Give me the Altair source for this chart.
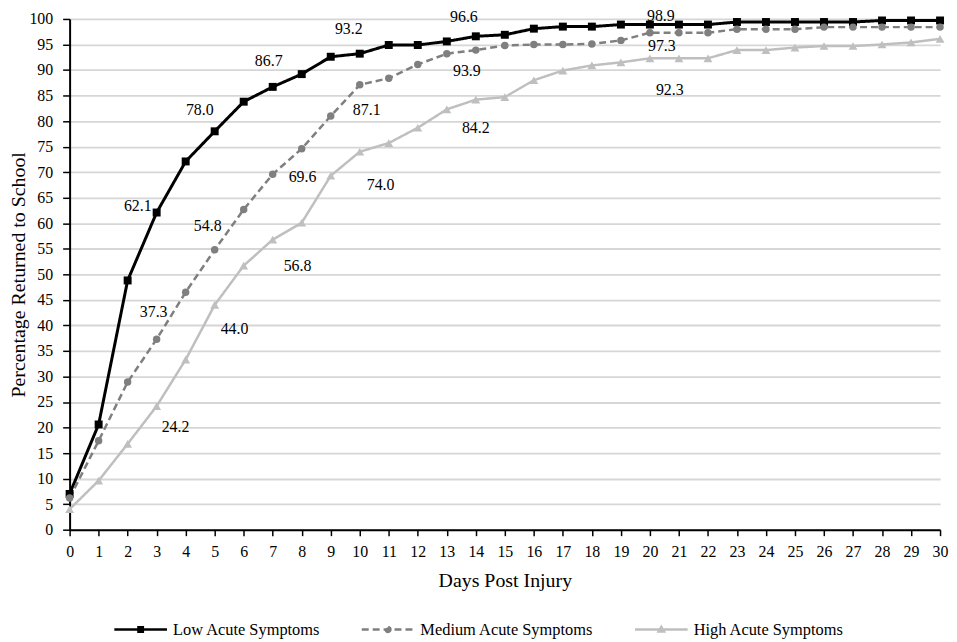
import altair as alt
import pandas as pd

# ---------------- data ----------------
days = list(range(31))
low = [7.0, 20.6, 48.8, 62.1, 72.1, 78.0, 83.8, 86.7, 89.2, 92.6, 93.2, 94.9, 94.9, 95.6, 96.6, 96.9,
       98.1, 98.5, 98.5, 98.9, 98.9, 98.9, 98.9, 99.4, 99.4, 99.4, 99.4, 99.4, 99.7, 99.7, 99.7]
medium = [6.2, 17.4, 28.9, 37.3, 46.5, 54.8, 62.7, 69.6, 74.6, 81.0, 87.1, 88.4, 91.1, 93.2, 93.9, 94.8,
          95.0, 95.0, 95.1, 95.8, 97.3, 97.3, 97.3, 98.0, 98.0, 98.0, 98.4, 98.4, 98.4, 98.4, 98.4]
high = [4.0, 9.6, 16.8, 24.2, 33.3, 44.0, 51.7, 56.8, 60.1, 69.3, 74.0, 75.7, 78.7, 82.3, 84.2, 84.7,
        88.0, 89.9, 90.9, 91.5, 92.3, 92.3, 92.3, 93.9, 93.9, 94.4, 94.7, 94.7, 95.0, 95.4, 96.1]
series = ["Low Acute Symptoms", "Medium Acute Symptoms", "High Acute Symptoms"]
label_days = [3, 5, 7, 10, 14, 20]
y_ticks = list(range(0, 101, 5))

# ---------------- style ----------------
FONT = "Liberation Serif"
colors = ["#000000", "#7f7f7f", "#bfbfbf"]
dashes = [[1, 0], [7, 4], [1, 0]]
line_widths = [3, 2.5, 2.5]
marker_shapes = ["square", "circle", "triangle-up"]
marker_sizes = [64, 56, 80]
legend_paths = [
    "M-3,0H3M-0.25,-0.25H0.25V0.25H-0.25Z",
    "M-3,0H3M0.27,0A0.27,0.27,0,1,1,-0.27,0A0.27,0.27,0,1,1,0.27,0Z",
    "M-3,0H3M0,-0.3L0.3,0.22L-0.3,0.22Z",
]
# annotation offsets (pixels) for the labelled days, per series
label_offsets = [
    [(-19, -7), (-15, -21), (-4, -26), (-11, -25), (-12, -19), (11, -9)],
    [(-3, -27), (-7, -24), (30, 3), (7, 25), (-9, 21), (12, 13)],
    [(19, 21), (20, 24), (25, 27), (21, 33), (0, 29), (20, 32)],
]

rows = []
for name, vals in zip(series, [low, medium, high]):
    for d, v in zip(days, vals):
        rows.append({"day": d, "value": v, "series": name})
df = pd.DataFrame(rows)

color_scale = alt.Scale(domain=series, range=colors)
dash_scale = alt.Scale(domain=series, range=dashes)
shape_scale = alt.Scale(domain=series, range=legend_paths)

x_axis = alt.Axis(
    values=days, title="Days Post Injury", grid=False, format="d",
    domainColor="black", domainWidth=2, tickColor="black", tickWidth=1.5, tickSize=6,
    labelFontSize=16, labelPadding=8, labelColor="black", labelFont=FONT,
    titleFontSize=20, titleFontWeight="normal", titleColor="black", titleFont=FONT,
    titlePadding=11, labelFlush=False, labelOverlap=False,
)
y_axis = alt.Axis(
    values=y_ticks, title="Percentage Returned to School", grid=True,
    gridColor="#d6d6d6", gridWidth=1.8,
    domainColor="black", domainWidth=2, tickColor="black", tickWidth=1.5, tickSize=7,
    labelFontSize=16, labelPadding=10, labelColor="black", labelFont=FONT,
    titleFontSize=20, titleFontWeight="normal", titleColor="black", titleFont=FONT,
    titlePadding=0, labelFlush=False, labelOverlap=False,
)
x_scale = alt.Scale(domain=[0, 30], nice=False)
y_scale = alt.Scale(domain=[0, 100], nice=False)


def xe():
    return alt.X("day:Q", scale=x_scale, axis=x_axis)


def ye():
    return alt.Y("value:Q", scale=y_scale, axis=y_axis)


base = alt.Chart(df)
layers = []

# lines
for i, name in enumerate(series):
    layers.append(
        base.transform_filter(alt.datum.series == name)
        .mark_line(strokeWidth=line_widths[i], color=colors[i], strokeDash=dashes[i])
        .encode(x=xe(), y=ye())
    )
# markers
for i, name in enumerate(series):
    layers.append(
        base.transform_filter(alt.datum.series == name)
        .mark_point(shape=marker_shapes[i], size=marker_sizes[i], filled=True,
                    color=colors[i], opacity=1)
        .encode(x=xe(), y=ye())
    )
# value annotations
for i, name in enumerate(series):
    for j, d in enumerate(label_days):
        dx, dy = label_offsets[i][j]
        layers.append(
            base.transform_filter((alt.datum.series == name) & (alt.datum.day == d))
            .mark_text(dx=dx, dy=dy, fontSize=16, font=FONT, color="black")
            .encode(x=xe(), y=ye(), text=alt.Text("value:Q", format=".1f"))
        )

# legend carrier (no visible data)
leg = alt.Legend(
    title=None, orient="none", direction="horizontal", legendX=61, legendY=604,
    labelFont=FONT, labelFontSize=16.5, labelColor="black", labelOffset=22, labelLimit=400,
    columnPadding=36, symbolSize=312, symbolStrokeWidth=2.5, padding=0,
    symbolOpacity=1,
)
layers.append(
    base.transform_filter("false")
    .mark_point(filled=False, opacity=1, strokeWidth=2.5)
    .encode(
        x=xe(), y=ye(),
        color=alt.Color("series:N", scale=color_scale, legend=leg),
        fill=alt.Fill("series:N", scale=color_scale, legend=leg),
        shape=alt.Shape("series:N", scale=shape_scale, legend=leg),
        strokeDash=alt.StrokeDash("series:N", scale=dash_scale, legend=leg),
    )
)

chart = (
    alt.layer(*layers)
    .properties(
        width=876, height=514,
        autosize=alt.AutoSizeParams(type="none"),
        padding={"left": 62, "top": 9, "right": 9, "bottom": 111},
    )
    .configure(font=FONT)
    .configure_view(stroke=None)
)

chart.save("out.html", embed_options={"renderer": "svg", "actions": False})
